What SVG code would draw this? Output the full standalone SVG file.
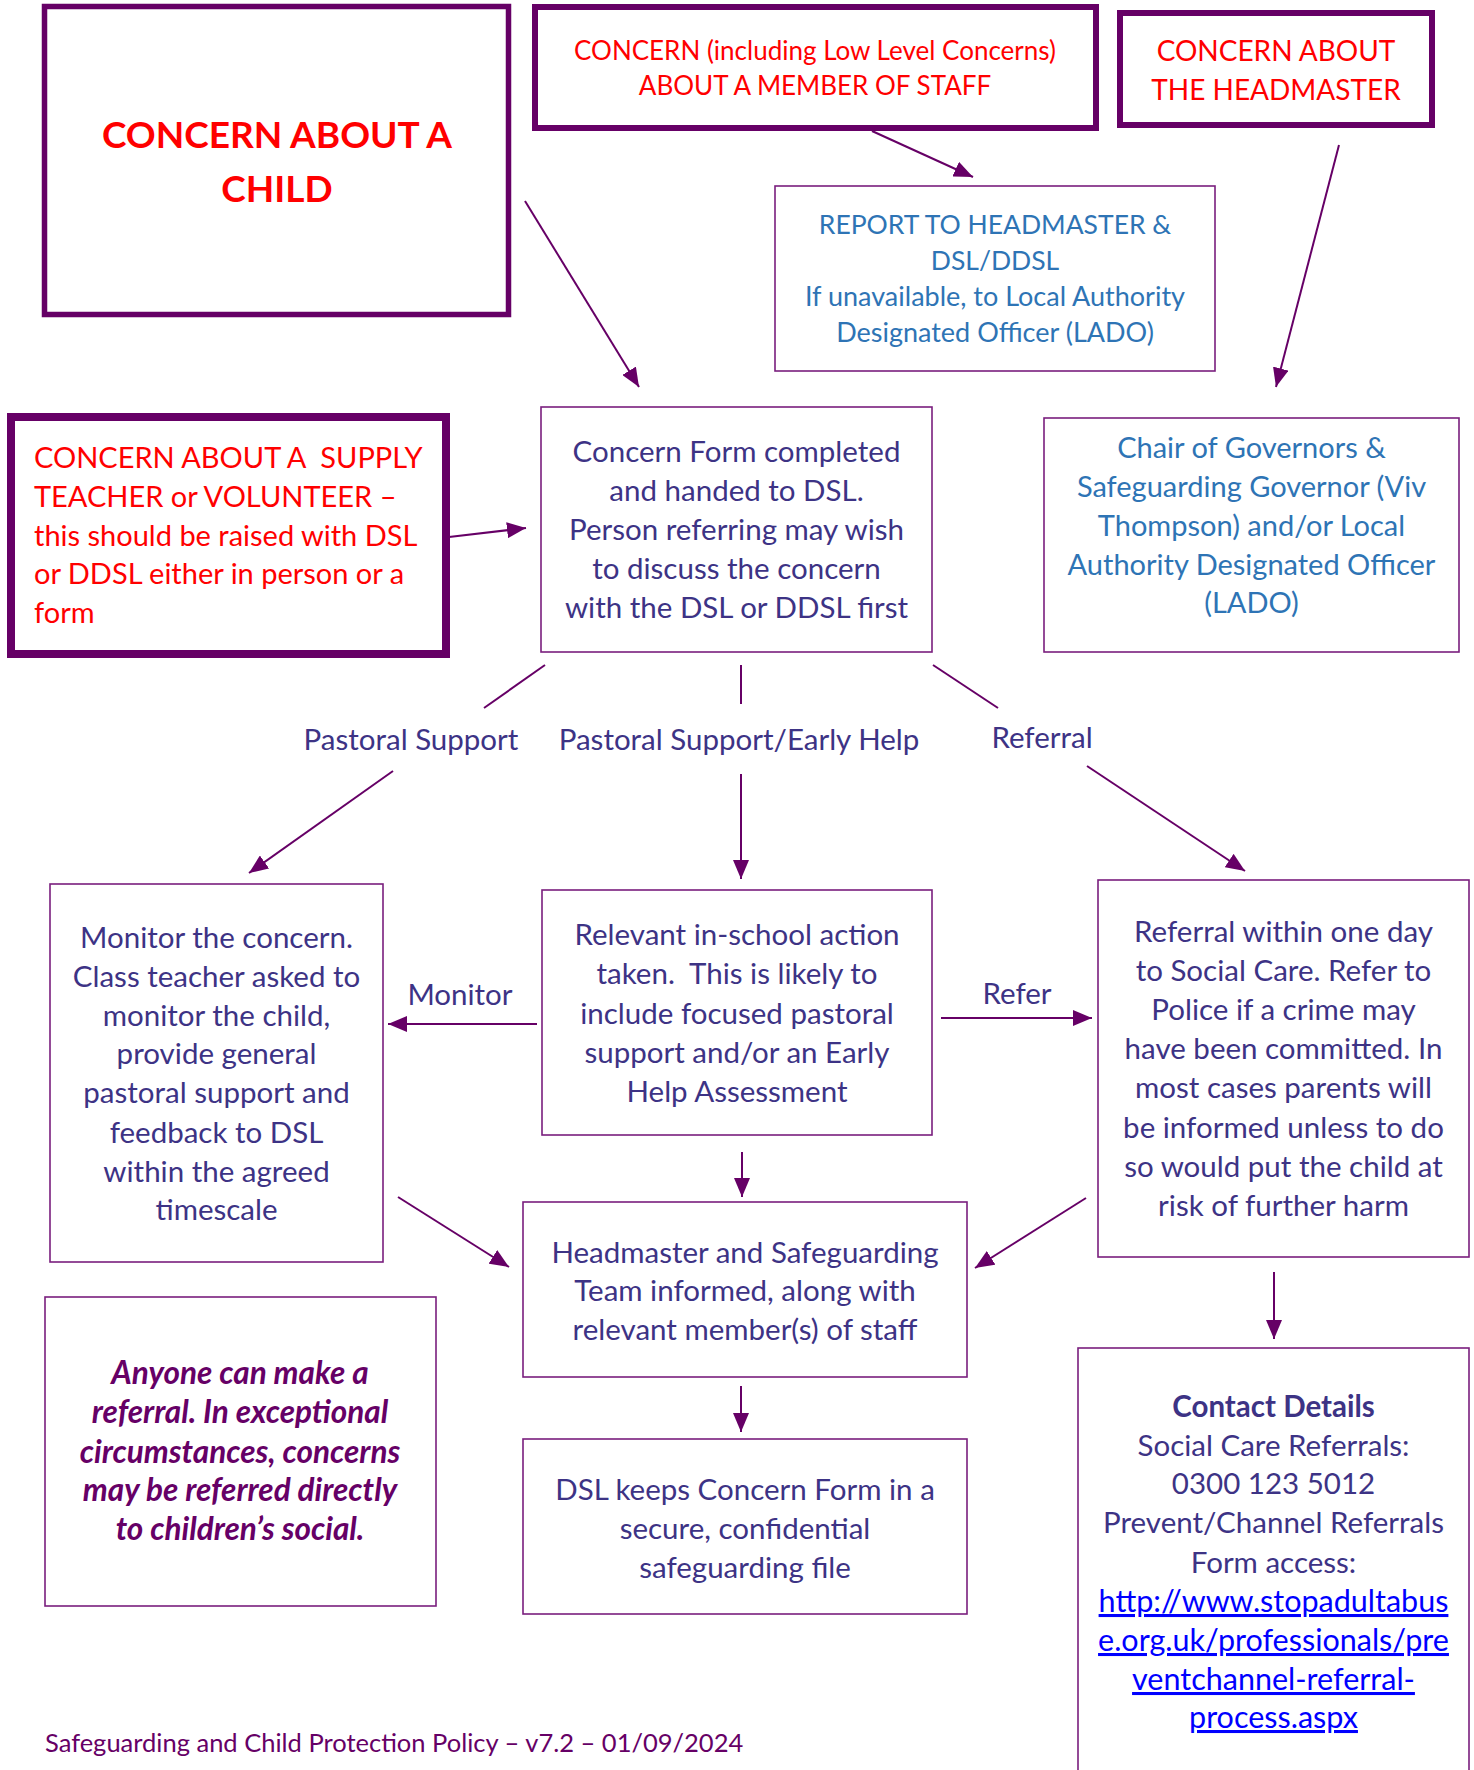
<svg xmlns="http://www.w3.org/2000/svg" width="1474" height="1770" viewBox="0 0 1474 1770">
<style>
text{font-family:Lato,"Open Sans","Liberation Sans",sans-serif;}
.thick{fill:#fff;stroke:#660066;}
.thin{fill:#fff;stroke:#7a1f7e;stroke-width:1.6;}
.red{fill:#ff0000;}
.blue{fill:#2e74b5;}
.navy{fill:#3d3385;}
.c{text-anchor:middle;}
.body{font-size:29.5px;}
.conn line{stroke:#660066;stroke-width:2;}
</style>
<defs>
<marker id="ah" markerUnits="userSpaceOnUse" markerWidth="20" markerHeight="16" refX="19" refY="8" orient="auto">
<path d="M0,0 L19,8 L0,16 z" fill="#660066"/>
</marker>
</defs>
<rect width="1474" height="1770" fill="#fff"/>

<g id="connectors" class="conn">
<line x1="525" y1="201" x2="639" y2="387" marker-end="url(#ah)"/>
<line x1="872" y1="131" x2="973" y2="177" marker-end="url(#ah)"/>
<line x1="1339" y1="145" x2="1276" y2="387" marker-end="url(#ah)"/>
<line x1="449" y1="537" x2="526" y2="528" marker-end="url(#ah)"/>
<line x1="545" y1="665" x2="484" y2="708"/>
<line x1="741" y1="665" x2="741" y2="704"/>
<line x1="933" y1="665" x2="998" y2="708"/>
<line x1="393" y1="771" x2="249" y2="873" marker-end="url(#ah)"/>
<line x1="741" y1="774" x2="741" y2="879" marker-end="url(#ah)"/>
<line x1="1087" y1="766" x2="1245" y2="871" marker-end="url(#ah)"/>
<line x1="537" y1="1024" x2="388" y2="1024" marker-end="url(#ah)"/>
<line x1="941" y1="1018" x2="1092" y2="1018" marker-end="url(#ah)"/>
<line x1="398" y1="1197" x2="509" y2="1267" marker-end="url(#ah)"/>
<line x1="742" y1="1152" x2="742" y2="1197" marker-end="url(#ah)"/>
<line x1="1086" y1="1198" x2="975" y2="1268" marker-end="url(#ah)"/>
<line x1="741" y1="1386" x2="741" y2="1432" marker-end="url(#ah)"/>
<line x1="1274" y1="1272" x2="1274" y2="1339" marker-end="url(#ah)"/>
</g>

<g id="node-child">
<rect class="thick" x="44.5" y="6.5" width="464" height="308" stroke-width="5.5"/>
<text class="red c" x="277" y="148" font-size="37" font-weight="bold">CONCERN ABOUT A</text>
<text class="red c" x="277" y="202" font-size="37" font-weight="bold">CHILD</text>
</g>

<g id="node-staff">
<rect class="thick" x="535" y="7" width="561" height="121" stroke-width="6"/>
<text class="red c" x="815" y="60" font-size="26">CONCERN (including Low Level Concerns)</text>
<text class="red c" x="815" y="95" font-size="26">ABOUT A MEMBER OF STAFF</text>
</g>

<g id="node-headmaster">
<rect class="thick" x="1120" y="13" width="312" height="112" stroke-width="6"/>
<text class="red c" x="1276" y="61" font-size="28">CONCERN ABOUT</text>
<text class="red c" x="1276" y="100" font-size="28">THE HEADMASTER</text>
</g>

<g id="node-report">
<rect class="thin" x="775" y="186" width="440" height="185"/>
<text class="blue c" x="995" y="234" font-size="26.5">REPORT TO HEADMASTER &amp;</text>
<text class="blue c" x="995" y="270" font-size="26.5">DSL/DDSL</text>
<text class="blue c" x="995" y="306" font-size="27">If unavailable, to Local Authority</text>
<text class="blue c" x="995" y="342" font-size="27">Designated Officer (LADO)</text>
</g>

<g id="node-supply">
<rect class="thick" x="11" y="417" width="435" height="237" stroke-width="8"/>
<text class="red" font-size="29" x="34" y="468" xml:space="preserve">CONCERN ABOUT A  SUPPLY</text>
<text class="red" font-size="29" x="34" y="507">TEACHER or VOLUNTEER –</text>
<text class="red" font-size="29" x="34" y="546">this should be raised with DSL</text>
<text class="red" font-size="29" x="34" y="584">or DDSL either in person or a</text>
<text class="red" font-size="29" x="34" y="623">form</text>
</g>

<g id="node-form">
<rect class="thin" x="541" y="407" width="391" height="245"/>
<text class="navy body c" x="736.5" y="462">Concern Form completed</text>
<text class="navy body c" x="736.5" y="501">and handed to DSL.</text>
<text class="navy body c" x="736.5" y="540">Person referring may wish</text>
<text class="navy body c" x="736.5" y="579">to discuss the concern</text>
<text class="navy body c" x="736.5" y="618">with the DSL or DDSL first</text>
</g>

<g id="node-governors">
<rect class="thin" x="1044" y="418" width="415" height="234"/>
<text class="blue c" font-size="29" x="1251.5" y="458">Chair of Governors &amp;</text>
<text class="blue c" font-size="29" x="1251.5" y="497">Safeguarding Governor (Viv</text>
<text class="blue c" font-size="29" x="1251.5" y="536">Thompson) and/or Local</text>
<text class="blue c" font-size="29" x="1251.5" y="575">Authority Designated Officer</text>
<text class="blue c" font-size="29" x="1251.5" y="613">(LADO)</text>
</g>

<g id="labels">
<text class="navy body c" x="411" y="750">Pastoral Support</text>
<text class="navy body c" x="739" y="750">Pastoral Support/Early Help</text>
<text class="navy body c" x="1042" y="748">Referral</text>
<text class="navy body c" x="460" y="1005">Monitor</text>
<text class="navy body c" x="1017" y="1004">Refer</text>
</g>

<g id="node-monitor">
<rect class="thin" x="50" y="884" width="333" height="378"/>
<text class="navy body c" x="216.5" y="948">Monitor the concern.</text>
<text class="navy body c" x="216.5" y="987">Class teacher asked to</text>
<text class="navy body c" x="216.5" y="1026">monitor the child,</text>
<text class="navy body c" x="216.5" y="1064">provide general</text>
<text class="navy body c" x="216.5" y="1103">pastoral support and</text>
<text class="navy body c" x="216.5" y="1143">feedback to DSL</text>
<text class="navy body c" x="216.5" y="1182">within the agreed</text>
<text class="navy body c" x="216.5" y="1220">timescale</text>
</g>

<g id="node-action">
<rect class="thin" x="542" y="890" width="390" height="245"/>
<text class="navy body c" x="737" y="945">Relevant in-school action</text>
<text class="navy body c" x="737" y="984" xml:space="preserve">taken.  This is likely to</text>
<text class="navy body c" x="737" y="1024">include focused pastoral</text>
<text class="navy body c" x="737" y="1063">support and/or an Early</text>
<text class="navy body c" x="737" y="1102">Help Assessment</text>
</g>

<g id="node-referral">
<rect class="thin" x="1098" y="880" width="371" height="377"/>
<text class="navy body c" x="1283.5" y="942">Referral within one day</text>
<text class="navy body c" x="1283.5" y="981">to Social Care. Refer to</text>
<text class="navy body c" x="1283.5" y="1020">Police if a crime may</text>
<text class="navy body c" x="1283.5" y="1059">have been committed. In</text>
<text class="navy body c" x="1283.5" y="1098">most cases parents will</text>
<text class="navy body c" x="1283.5" y="1138">be informed unless to do</text>
<text class="navy body c" x="1283.5" y="1177">so would put the child at</text>
<text class="navy body c" x="1283.5" y="1216">risk of further harm</text>
</g>

<g id="node-informed">
<rect class="thin" x="523" y="1202" width="444" height="175"/>
<text class="navy body c" x="745" y="1263">Headmaster and Safeguarding</text>
<text class="navy body c" x="745" y="1301">Team informed, along with</text>
<text class="navy body c" x="745" y="1340">relevant member(s) of staff</text>
</g>

<g id="node-file">
<rect class="thin" x="523" y="1439" width="444" height="175"/>
<text class="navy body c" x="745" y="1500">DSL keeps Concern Form in a</text>
<text class="navy body c" x="745" y="1539">secure, confidential</text>
<text class="navy body c" x="745" y="1578">safeguarding file</text>
</g>

<g id="node-anyone">
<rect class="thin" x="45" y="1297" width="391" height="309"/>
<g fill="#660066" font-size="31.5" font-weight="bold" font-style="italic" text-anchor="middle">
<text x="240" y="1384">Anyone can make a</text>
<text x="240" y="1423">referral. In exceptional</text>
<text x="240" y="1463">circumstances, concerns</text>
<text x="240" y="1501">may be referred directly</text>
<text x="240" y="1540">to children’s social.</text>
</g>
</g>

<g id="node-contact">
<rect class="thin" x="1078" y="1348" width="391" height="450"/>
<text class="navy body c" x="1273.5" y="1417" font-weight="bold">Contact Details</text>
<text class="navy body c" x="1273.5" y="1456">Social Care Referrals:</text>
<text class="navy body c" x="1273.5" y="1494">0300 123 5012</text>
<text class="navy body c" x="1273.5" y="1533">Prevent/Channel Referrals</text>
<text class="navy body c" x="1273.5" y="1573">Form access:</text>
<g fill="#0000ff" font-size="30.5" text-anchor="middle" text-decoration="underline">
<text x="1273.5" y="1612">http://www.stopadultabus</text>
<text x="1273.5" y="1651">e.org.uk/professionals/pre</text>
<text x="1273.5" y="1690">ventchannel-referral-</text>
<text x="1273.5" y="1728">process.aspx</text>
</g>
</g>

<text id="footer" x="45" y="1752" font-size="25.5" fill="#660066">Safeguarding and Child Protection Policy – v7.2 – 01/09/2024</text>
</svg>
